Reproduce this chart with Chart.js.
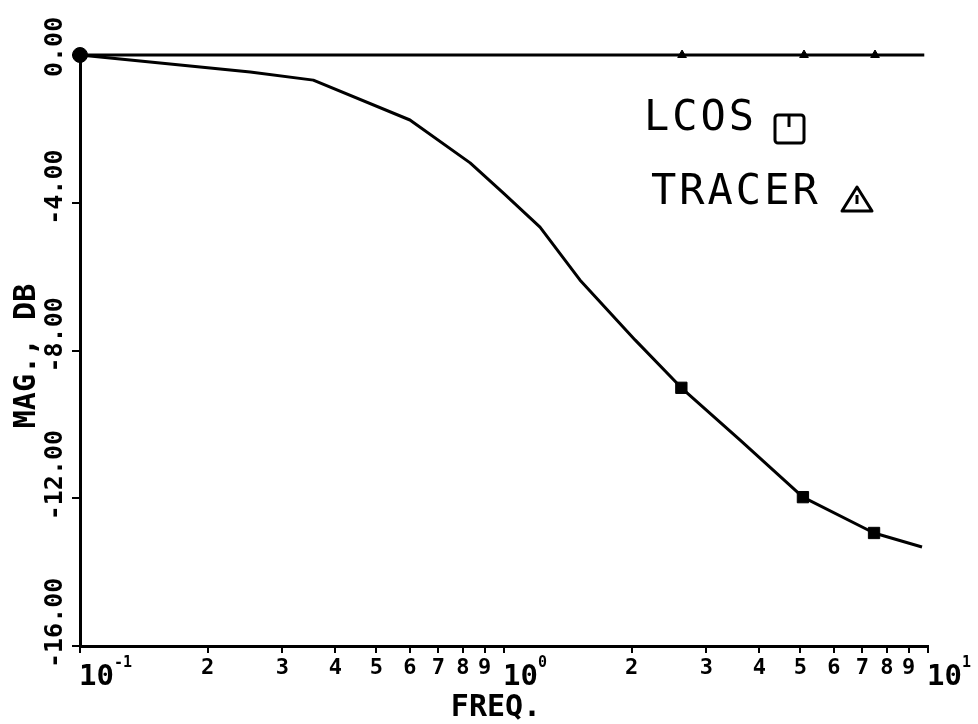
<!DOCTYPE html>
<html>
<head>
<meta charset="utf-8">
<script src="https://cdn.jsdelivr.net/npm/chart.js@4/dist/chart.umd.min.js"></script>
<style>
  html, body { margin: 0; padding: 0; background: #ffffff; }
  #wrap { width: 978px; height: 724px; position: relative; }
</style>
</head>
<body>
<div id="wrap"><canvas id="c" width="978" height="724"></canvas></div>
<script>
// ---- data ----
const lcosFreq = [0.1, 0.252, 0.355, 0.60, 0.832, 1.0, 1.216, 1.51, 2.04, 2.62, 3.60, 5.07, 7.46, 9.68];
const lcosDb   = [0, -0.46, -0.68, -1.76, -2.92, -3.75, -4.66, -6.09, -7.72, -9.01, -10.42, -11.97, -12.94, -13.32];
const lcosMarkFreq = [0.1, 2.62, 5.07, 7.46];
const lcosMarkDb   = [0, -9.01, -11.97, -12.94];
const tracerFreq = [0.1, 9.8];
const tracerDb   = [0, 0];
const tracerMarkFreq = [2.63, 5.10, 7.50];
const tracerMarkDb   = [0, 0, 0];

const xTickValues = [0.1,0.2,0.3,0.4,0.5,0.6,0.7,0.8,0.9,1,2,3,4,5,6,7,8,9,10];
const xTickLabels = ['10','2','3','4','5','6','7','8','9','10','2','3','4','5','6','7','8','9','10'];
const xTickExps   = ['-1','','','','','','','','','0','','','','','','','','','1'];
const yTickValues = [0, -4, -8, -12, -16];
const yTickLabels = ['0.00', '-4.00', '-8.00', '-12.00', '-16.00'];
const xTitle = 'FREQ.';
const yTitle = 'MAG., DB';
const legendNames = ['LCOS', 'TRACER'];

const toPts = (xs, ys) => xs.map((x, i) => ({x: x, y: ys[i]}));
const INK = '#000000';
const MONO = '"DejaVu Sans Mono", "Liberation Mono", monospace';

const labelPlugin = {
  id: 'labels',
  afterDraw(chart) {
    const ctx = chart.ctx;
    const xs = chart.scales.x, ys = chart.scales.y;
    ctx.save();
    ctx.fillStyle = INK;
    ctx.strokeStyle = INK;

    // y tick labels, rotated (read bottom to top)
    ctx.font = 'bold 25px ' + MONO;
    ctx.textBaseline = 'middle';
    ctx.textAlign = 'left';
    yTickValues.forEach((v, i) => {
      const py = ys.getPixelForValue(v);
      ctx.save();
      ctx.translate(55, py + 22);
      ctx.rotate(-Math.PI / 2);
      ctx.fillText(yTickLabels[i], 0, 0);
      ctx.restore();
    });

    // x tick labels
    xTickValues.forEach((v, i) => {
      const px = xs.getPixelForValue(v);
      if (xTickExps[i] !== '') {
        ctx.font = 'bold 29px ' + MONO;
        ctx.textAlign = 'left';
        ctx.textBaseline = 'alphabetic';
        ctx.fillText(xTickLabels[i], px - 1, 685);
        const w = ctx.measureText(xTickLabels[i]).width;
        ctx.font = 'bold 15px ' + MONO;
        ctx.fillText(xTickExps[i], px - 1 + w, 667);
      } else {
        ctx.font = 'bold 22px ' + MONO;
        ctx.textAlign = 'center';
        ctx.textBaseline = 'middle';
        ctx.fillText(xTickLabels[i], px, 668);
      }
    });

    // axis titles
    ctx.font = 'bold 30px ' + MONO;
    ctx.textAlign = 'center';
    ctx.textBaseline = 'middle';
    ctx.fillText(xTitle, 496, 708);
    ctx.save();
    ctx.translate(27, 356);
    ctx.rotate(-Math.PI / 2);
    ctx.font = 'bold 30px ' + MONO;
    ctx.fillText(yTitle, 0, 0);
    ctx.restore();

    // legend
    ctx.font = '42px ' + MONO;
    ctx.textAlign = 'left';
    ctx.textBaseline = 'alphabetic';
    if ('letterSpacing' in ctx) ctx.letterSpacing = '3px';
    ctx.fillText(legendNames[0], 644, 130);
    ctx.fillText(legendNames[1], 651, 204);
    if ('letterSpacing' in ctx) ctx.letterSpacing = '0px';
    ctx.lineWidth = 3;
    ctx.lineJoin = 'round';
    // square symbol
    ctx.beginPath();
    ctx.roundRect ? ctx.roundRect(775, 115, 29, 28, 3) : ctx.rect(775, 115, 29, 28);
    ctx.stroke();
    ctx.beginPath();
    ctx.moveTo(789, 116); ctx.lineTo(789, 127); ctx.stroke();
    // triangle symbol
    ctx.beginPath();
    ctx.moveTo(857, 187); ctx.lineTo(872, 211); ctx.lineTo(842, 211); ctx.closePath();
    ctx.stroke();
    ctx.beginPath();
    ctx.moveTo(857, 195); ctx.lineTo(857, 204); ctx.stroke();

    ctx.restore();
  }
};

new Chart(document.getElementById('c'), {
  type: 'scatter',
  data: {
    datasets: [
      { label: 'LCOS', data: toPts(lcosFreq, lcosDb), showLine: true, borderColor: INK,
        borderWidth: 3, pointRadius: 0, tension: 0, borderJoinStyle: 'round', clip: false },
      { label: 'TRACER', data: toPts(tracerFreq, tracerDb), showLine: true, borderColor: INK,
        borderWidth: 3, pointRadius: 0, tension: 0, clip: false },
      { label: 'LCOS pts', data: toPts(lcosMarkFreq, lcosMarkDb), showLine: false,
        pointStyle: ['circle', 'rect', 'rect', 'rect'], pointRadius: [7.5, 8, 8, 8],
        backgroundColor: INK, borderColor: INK, borderWidth: 1, clip: false },
      { label: 'TRACER pts', data: toPts(tracerMarkFreq, tracerMarkDb), showLine: false,
        pointStyle: 'triangle', pointRadius: 5,
        backgroundColor: INK, borderColor: INK, borderWidth: 1, clip: false }
    ]
  },
  options: {
    responsive: false,
    animation: false,
    events: [],
    layout: { padding: { left: 0, right: 50, top: 55, bottom: 0 } },
    plugins: { legend: { display: false }, tooltip: { enabled: false } },
    scales: {
      x: {
        type: 'logarithmic', min: 0.1, max: 10,
        afterBuildTicks: s => { s.ticks = xTickValues.map(v => ({ value: v })); },
        afterFit: s => { s.height = 78; },
        ticks: { display: false },
        grid: { display: true, drawOnChartArea: false, drawTicks: true, tickLength: 7, color: INK, lineWidth: 2 },
        border: { display: true, color: INK, width: 3 }
      },
      y: {
        type: 'linear', min: -16, max: 0,
        afterBuildTicks: s => { s.ticks = yTickValues.map(v => ({ value: v })); },
        afterFit: s => { s.width = 80; },
        ticks: { display: false },
        grid: { display: true, drawOnChartArea: false, drawTicks: true, tickLength: 8, color: INK, lineWidth: 2 },
        border: { display: true, color: INK, width: 3 }
      }
    }
  },
  plugins: [labelPlugin]
});
</script>
</body>
</html>
